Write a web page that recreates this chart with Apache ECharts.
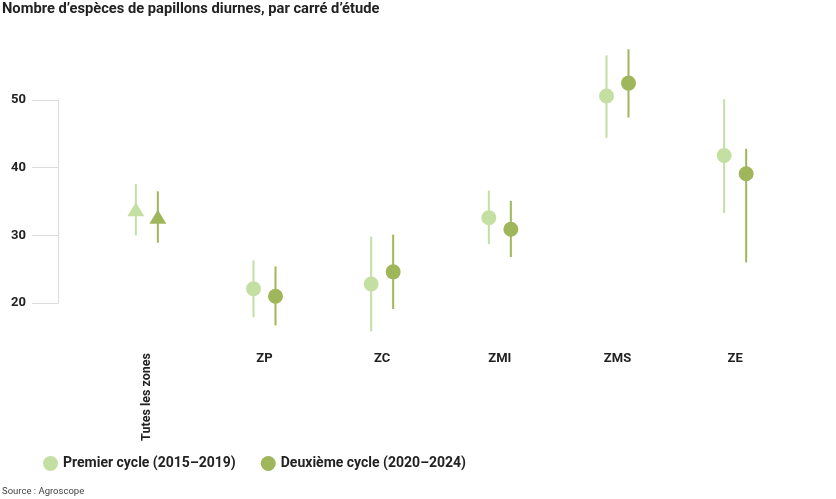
<!DOCTYPE html>
<html>
<head>
<meta charset="utf-8">
<script src="https://cdn.jsdelivr.net/npm/echarts@6/dist/echarts.min.js"></script>
<style>html,body{margin:0;padding:0;background:#fff}#c{width:836px;height:499px}</style>
</head>
<body>
<div id="c"></div>
<script>
var categories = ['Tutes les zones', 'ZP', 'ZC', 'ZMI', 'ZMS', 'ZE'];
var yTicks = [20, 30, 40, 50];
var seriesNames = ['Premier cycle (2015–2019)', 'Deuxième cycle (2020–2024)'];
// mean, lower, upper
var cycle1Mean = [33.7, 22.1, 22.8, 32.6, 50.6, 41.8];
var cycle1Low  = [30.0, 17.9, 15.8, 28.7, 44.4, 33.3];
var cycle1High = [37.6, 26.3, 29.8, 36.6, 56.6, 50.1];
var cycle2Mean = [32.6, 21.0, 24.6, 30.9, 52.5, 39.1];
var cycle2Low  = [28.9, 16.7, 19.1, 26.8, 47.4, 26.0];
var cycle2High = [36.5, 25.4, 30.1, 35.1, 57.5, 42.8];

var colors = ['#c3dfa2', '#9fb65a'];
var FONT = 'Roboto, "Noto Sans", sans-serif';

function buildData(mean, low, high) {
  return categories.map(function (c, i) { return [i, mean[i], low[i], high[i]]; });
}

function makeRender(offset, color) {
  return function (params, api) {
    var idx = api.value(0);
    var pm = api.coord([idx, api.value(1)]);
    var pl = api.coord([idx, api.value(2)]);
    var ph = api.coord([idx, api.value(3)]);
    var x = pm[0] + offset;
    var children = [{
      type: 'line',
      shape: { x1: x, y1: ph[1], x2: x, y2: pl[1] },
      style: { stroke: color, lineWidth: 2 }
    }];
    if (idx === 0) {
      children.push({
        type: 'polygon',
        shape: { points: [[x, pm[1] - 8], [x + 8.5, pm[1] + 6], [x - 8.5, pm[1] + 6]] },
        style: { fill: color }
      });
    } else {
      children.push({
        type: 'circle',
        shape: { cx: x, cy: pm[1], r: 7.5 },
        style: { fill: color }
      });
    }
    return { type: 'group', children: children };
  };
}

var chart = echarts.init(document.getElementById('c'));
chart.setOption({
  animation: false,
  textStyle: { fontFamily: FONT },
  title: [{
    text: 'Nombre d’espèces de papillons diurnes, par carré d’étude',
    left: 2, top: 2, padding: 0,
    textStyle: { fontFamily: FONT, fontSize: 14.7, fontWeight: 'bold', color: '#222' }
  }, {
    text: 'Source : Agroscope',
    left: 2, top: 487, padding: 0,
    textStyle: { fontFamily: FONT, fontSize: 9.5, fontWeight: 'normal', color: '#444' }
  }],
  legend: {
    left: 38, top: 451,
    icon: 'circle', itemWidth: 15, itemHeight: 15, itemGap: 25,
    textStyle: { fontFamily: FONT, fontSize: 14, fontWeight: 'bold', color: '#222' },
    data: seriesNames
  },
  grid: { left: 88, right: 42, top: 100, bottom: 196, containLabel: false },
  xAxis: [{
    type: 'category', data: categories, position: 'bottom',
    axisLine: { show: false }, axisTick: { show: false },
    axisLabel: {
      margin: 49, fontFamily: FONT, fontSize: 13, fontWeight: 'bold', color: '#222',
      formatter: function (v, i) { return i === 0 ? '' : v; }
    }
  }, {
    type: 'category', data: categories, position: 'bottom',
    axisLine: { show: false }, axisTick: { show: false },
    axisLabel: {
      margin: 50, rotate: 90, fontFamily: FONT, fontSize: 12.5, fontWeight: 'bold', color: '#222',
      formatter: function (v, i) { return i === 0 ? v : ''; }
    }
  }],
  yAxis: {
    type: 'value', min: yTicks[0], max: yTicks[yTicks.length - 1], interval: 10,
    offset: 30,
    splitLine: { show: false },
    axisLine: { show: true, lineStyle: { color: '#dcdcdc', width: 1 } },
    axisTick: { show: true, length: 26, lineStyle: { color: '#dcdcdc' } },
    axisLabel: { margin: 32, fontFamily: FONT, fontSize: 13, fontWeight: 'bold', color: '#222' }
  },
  series: [{
    name: seriesNames[0], type: 'custom', xAxisIndex: 0, yAxisIndex: 0,
    itemStyle: { color: colors[0] }, clip: false,
    renderItem: makeRender(-11, colors[0]),
    encode: { x: 0, y: [1, 2, 3] },
    data: buildData(cycle1Mean, cycle1Low, cycle1High)
  }, {
    name: seriesNames[1], type: 'custom', xAxisIndex: 0, yAxisIndex: 0,
    itemStyle: { color: colors[1] }, clip: false,
    renderItem: makeRender(11, colors[1]),
    encode: { x: 0, y: [1, 2, 3] },
    data: buildData(cycle2Mean, cycle2Low, cycle2High)
  }]
});
</script>
</body>
</html>
